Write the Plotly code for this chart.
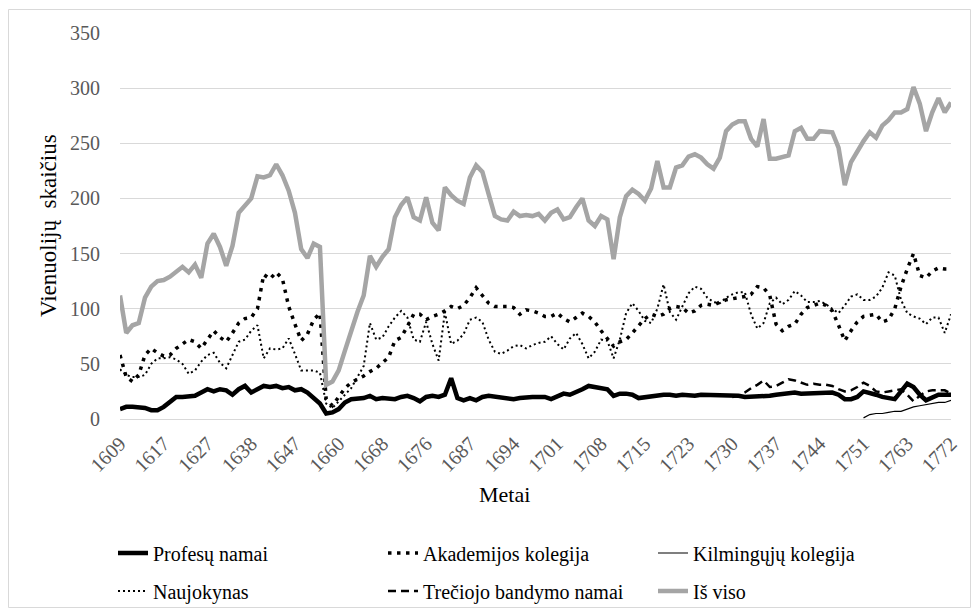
import plotly.graph_objects as go

YEARS = [
    1609, 1610, 1611, 1612, 1613, 1614, 1616, 1617, 1618, 1620,
    1621, 1622, 1624, 1625, 1627, 1628, 1630, 1631, 1633, 1635,
    1636, 1638, 1639, 1640, 1642, 1643, 1645, 1646, 1647, 1648,
    1649, 1651, 1653, 1655, 1657, 1660, 1661, 1662, 1663, 1664,
    1665, 1667, 1668, 1669, 1670, 1671, 1672, 1673, 1675, 1676,
    1677, 1679, 1681, 1682, 1684, 1685, 1687, 1688, 1689, 1690,
    1691, 1692, 1693, 1694, 1695, 1696, 1697, 1698, 1699, 1700,
    1701, 1702, 1703, 1704, 1705, 1706, 1707, 1708, 1709, 1710,
    1711, 1712, 1713, 1714, 1715, 1716, 1717, 1718, 1719, 1720,
    1722, 1723, 1724, 1725, 1726, 1727, 1728, 1729, 1730, 1731,
    1732, 1733, 1734, 1735, 1736, 1737, 1738, 1739, 1740, 1741,
    1742, 1743, 1744, 1745, 1746, 1747, 1748, 1749, 1750, 1751,
    1752, 1753, 1755, 1757, 1759, 1761, 1763, 1764, 1765, 1767,
    1768, 1769, 1770, 1772,
]

TICK_LABELS = ["1609", "1617", "1627", "1638", "1647", "1660", "1668", "1676",
               "1687", "1694", "1701", "1708", "1715", "1723", "1730", "1737",
               "1744", "1751", "1763", "1772"]

PROFESU = [
    9, 11, 11, 11, 10, 8, 8, 11, 15, 20,
    20, 21, 21, 24, 27, 25, 27, 26, 22, 27,
    30, 24, 27, 30, 29, 30, 28, 29, 26, 27,
    24, 19, 14, 5, 6, 9, 15, 18, 18, 19,
    21, 18, 19, 18, 18, 20, 21, 19, 16, 20,
    21, 20, 22, 37, 19, 17, 19, 17, 20, 21,
    20, 19, 19, 18, 19, 20, 20, 20, 20, 18,
    20, 23, 22, 24, 27, 30, 29, 28, 27, 21,
    23, 23, 22, 19, 20, 21, 22, 22, 22, 21,
    22, 21, 21, 22, 22, 22, 22, 22, 21, 21,
    20, 20, 20, 20, 21, 22, 23, 23, 24, 23,
    23, 23, 23, 24, 24, 22, 18, 18, 20, 25,
    24, 22, 20, 19, 18, 25, 32, 29, 22, 17,
    20, 22, 22, 22,
]

AKADEMIJOS = [
    58, 38, 34, 40, 58, 64, 60, 57, 58, 64,
    68, 72, 70, 64, 72, 80, 74, 70, 78, 87,
    91, 92, 100, 131, 127, 133, 127, 102, 86, 71,
    77, 90, 96, 18, 12, 20, 28, 33, 36, 39,
    43, 46, 51, 56, 71, 74, 84, 95, 95, 90,
    93, 95, 98, 102, 100, 103, 110, 119, 112, 105,
    102, 102, 102, 101, 95, 99, 98, 96, 93, 93,
    96, 91, 88, 92, 96, 93, 88, 80, 73, 66,
    70, 72, 78, 85, 91, 95, 93, 95, 100, 102,
    101, 96, 98, 103, 104, 103, 106, 108, 109, 110,
    111, 113, 120, 119, 112, 86, 80, 84, 86, 95,
    101, 103, 105, 103, 98, 85, 71, 80, 88, 93,
    94, 95, 88, 90, 100, 120, 136, 150, 130, 128,
    134, 137, 136, 136,
]

KILMINGUJU = [None] * 119 + [1, 4, 5, 5, 6, 7, 7, 9, 11, 12, 13, 14, 15, 15, 17]

NAUJOKYNAS = [
    45, 40, 38, 38, 40, 50, 55, 55, 56, 54,
    50, 41, 44, 52, 58, 60, 51, 46, 58, 70,
    72, 80, 85, 55, 64, 63, 64, 73, 59, 44,
    44, 44, 42, 14, 10, 16, 22, 28, 38, 48,
    87, 72, 74, 84, 92, 98, 92, 72, 70, 88,
    68, 53, 97, 68, 71, 77, 90, 92, 88, 72,
    61, 59, 62, 66, 67, 64, 67, 69, 70, 75,
    68, 63, 73, 78, 68, 55, 61, 72, 71, 55,
    72, 96, 105, 98, 89, 87, 100, 122, 97, 90,
    102, 114, 120, 118, 110, 106, 105, 110, 113, 115,
    115, 95, 82, 87, 105, 110, 104, 108, 116, 112,
    106, 106, 107, 104, 100, 96, 103, 111, 113, 108,
    108, 111, 119, 133, 130, 108, 96, 93, 91, 86,
    92, 92, 78, 95,
]

TRECIOJO = [None] * 98 + [
    20, 21, 24, 28, 31, 35, 29, 30, 33, 36,
    35, 33, 31, 32, 31, 31, 30, 27, 25, 26,
    29, 33, 30, 25, 24, 25, 26, 27, 22, 16,
    21, 25, 26, 26, 26, 23,
]

IS_VISO = [
    112, 78, 85, 87, 110, 120, 125, 126, 129, 133,
    138, 133, 140, 128, 159, 168, 156, 139, 157, 187,
    194, 200, 220, 219, 221, 231, 221, 207, 187, 154,
    146, 159, 156, 31, 34, 44, 62, 80, 97, 112,
    148, 138, 147, 154, 183, 194, 201, 183, 180, 201,
    178, 171, 210, 203, 198, 195, 219, 230, 224, 204,
    184, 181, 180, 188, 184, 185, 184, 186, 180, 187,
    190, 181, 183, 192, 200, 180, 175, 184, 181, 145,
    183, 202, 208, 204, 198, 209, 234, 210, 210, 228,
    230, 238, 240, 237, 231, 227, 237, 261, 267, 270,
    270, 254, 247, 272, 236, 236, 237, 239, 261, 264,
    254, 254, 261, 261, 260, 246, 212, 233, 243, 252,
    260, 255, 266, 271, 278, 278, 281, 301, 286, 261,
    278, 291, 278, 287,
]

FONT = "'Liberation Serif', 'Times New Roman', Times, 'DejaVu Serif', serif"
x_cat = [str(y) for y in YEARS]

series = [
    ("Profesų namai", PROFESU, dict(color="black", width=4.5), "legend"),
    ("Akademijos kolegija", AKADEMIJOS, dict(color="black", width=3.5, dash="3.5px,5.5px"), "legend"),
    ("Kilmingųjų kolegija", KILMINGUJU, dict(color="black", width=1.2), "legend"),
    ("Naujokynas", NAUJOKYNAS, dict(color="black", width=2, dash="2px,3px"), "legend2"),
    ("Trečiojo bandymo namai", TRECIOJO, dict(color="black", width=2.5, dash="8px,5px"), "legend2"),
    ("Iš viso", IS_VISO, dict(color="#a5a5a5", width=4.5), "legend2"),
]

fig = go.Figure()
for name, vals, line, leg in series:
    fig.add_trace(go.Scatter(x=x_cat, y=vals, name=name, mode="lines", line=line,
                             legend=leg, connectgaps=False))

# page body has an 8px margin; positions below are page pixels converted to figure
OFF = 8
W, H = 963, 600
L, T = 120 - OFF, 33 - OFF
R = W - (951 - OFF)
B = H - (419 - OFF)
pw, ph = W - L - R, H - T - B


def px_x(x):
    return (x - OFF - L) / pw


def px_y(y):
    return (H - B - (y - OFF)) / ph


leg_common = dict(orientation="h", font=dict(family=FONT, size=20, color="black"),
                  entrywidth=225, entrywidthmode="pixels", bgcolor="rgba(0,0,0,0)",
                  xanchor="left", yanchor="middle", itemclick=False)

fig.update_layout(
    width=W, height=H,
    margin=dict(l=L, r=R, t=T, b=B, autoexpand=False),
    paper_bgcolor="white", plot_bgcolor="white",
    font=dict(family=FONT, size=20, color="#595959"),
    legend=dict(x=px_x(113), y=px_y(553), **leg_common),
    legend2=dict(x=px_x(113), y=px_y(591), **leg_common),
    xaxis=dict(type="category", tickmode="array", tickvals=TICK_LABELS, ticktext=TICK_LABELS,
               tickangle=-45, range=[0, len(YEARS) - 1], showgrid=False, automargin=False,
               showline=True, linecolor="#d9d9d9", linewidth=1, ticks="",
               tickfont=dict(family=FONT, size=20, color="#595959"), ticklabelstandoff=4),
    yaxis=dict(range=[0, 350], dtick=50, showgrid=True, gridcolor="#d9d9d9", gridwidth=1,
               zeroline=False, showline=False, ticks="", automargin=False,
               tickfont=dict(family=FONT, size=20, color="#595959"), ticklabelstandoff=19),
    annotations=[
        dict(text="Vienuolijų\u00a0 skaičius", x=px_x(48), y=px_y(226), xref="paper", yref="paper",
             textangle=-90, showarrow=False, font=dict(family=FONT, size=23, color="black"),
             xanchor="center", yanchor="middle"),
        dict(text="Metai", x=px_x(504), y=px_y(494), xref="paper", yref="paper",
             showarrow=False, font=dict(family=FONT, size=22, color="black"),
             xanchor="center", yanchor="middle"),
    ],
    shapes=[dict(type="rect", xref="paper", yref="paper",
                 x0=px_x(8.5), x1=px_x(970.5), y0=px_y(607.5), y1=px_y(9.5),
                 line=dict(color="#d9d9d9", width=1), fillcolor="rgba(0,0,0,0)", layer="below")],
)

fig.write_html("out.html")
